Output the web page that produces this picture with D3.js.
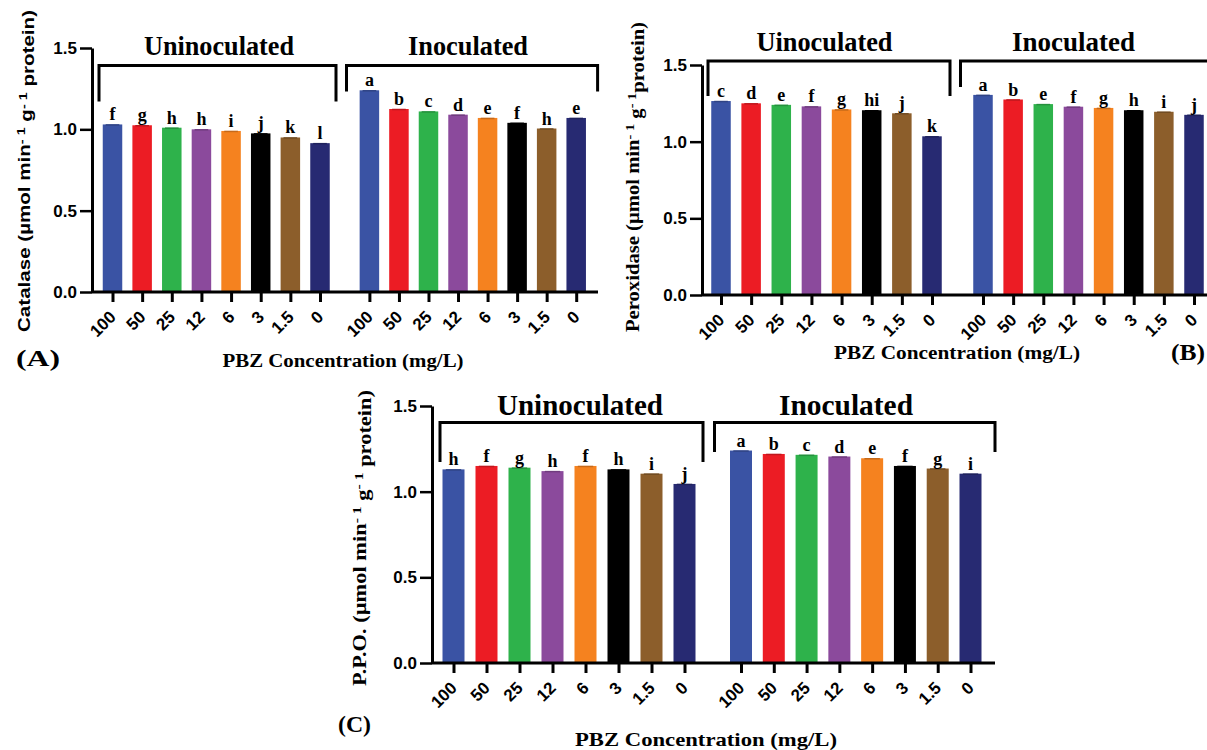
<!DOCTYPE html>
<html>
<head>
<meta charset="utf-8">
<script src="https://cdn.jsdelivr.net/npm/d3@7"></script>
<style>
  body { margin: 0; background: #fff; }
  svg { display: block; }
</style>
</head>
<body>
<div id="chart"></div>
<script>
// categories and shared stuff
const concentrations = ["100", "50", "25", "12", "6", "3", "1.5", "0"];
const barColors = ["#3a53a4", "#ec1c24", "#2eb24b", "#8b4a9c", "#f5821f", "#000000", "#8c5e2b", "#272a72"];
const yTickValues = [0, 0.5, 1.0, 1.5];

// (A) catalase
const catalaseUninoculated = [1.03, 1.025, 1.01, 1.0, 0.99, 0.975, 0.95, 0.915];
const catalaseInoculated = [1.24, 1.125, 1.11, 1.09, 1.07, 1.04, 1.005, 1.07];
const catalaseLettersUninoculated = ["f", "g", "h", "h", "i", "j", "k", "l"];
const catalaseLettersInoculated = ["a", "b", "c", "d", "e", "f", "h", "e"];

// (B) peroxidase
const peroxidaseUninoculated = [1.265, 1.25, 1.24, 1.23, 1.21, 1.205, 1.185, 1.035];
const peroxidaseInoculated = [1.305, 1.275, 1.245, 1.228, 1.22, 1.205, 1.195, 1.175];
const peroxidaseLettersUninoculated = ["c", "d", "e", "f", "g", "hi", "j", "k"];
const peroxidaseLettersInoculated = ["a", "b", "e", "f", "g", "h", "i", "j"];

// (C) PPO
const ppoUninoculated = [1.13, 1.15, 1.14, 1.12, 1.15, 1.13, 1.105, 1.045];
const ppoInoculated = [1.24, 1.22, 1.215, 1.205, 1.195, 1.15, 1.135, 1.105];
const ppoLettersUninoculated = ["h", "f", "g", "h", "f", "h", "i", "j"];
const ppoLettersInoculated = ["a", "b", "c", "d", "e", "f", "g", "i"];

const SERIF = "'Liberation Serif', 'Times New Roman', serif";
const SANS = "'Liberation Sans', Arial, sans-serif";

const panels = [
  {
    uninoc: catalaseUninoculated, inoc: catalaseInoculated,
    lettersU: catalaseLettersUninoculated, lettersI: catalaseLettersInoculated,
    yTitle: ["Catalase (µmol min", "- 1", " g", "- 1", " protein)"], yTitleFont: SANS,
    yTitlePos: { x: 24, y: 171, len: 322, size: 16.5 },
    axisX: 92, axisRight: 598, yTop: 48, yBottom: 292,
    centersU: [112.5, 320], centersI: [369.4, 576.2], barW: 19.5,
    bracketU: [99, 336, 65.5, 101.5, 101.5], bracketI: [346.5, 597.6, 65.5, 91.5, 91.5],
    titleU: { text: "Uninoculated", x: 219, y: 55, len: 150, size: 28 },
    titleI: { text: "Inoculated", x: 468, y: 55, len: 120, size: 28 },
    xTitle: { x: 343, y: 367, len: 241, size: 18 },
    tag: { text: "(A)", x: 16, y: 366, len: 44, size: 23 }
  },
  {
    uninoc: peroxidaseUninoculated, inoc: peroxidaseInoculated,
    lettersU: peroxidaseLettersUninoculated, lettersI: peroxidaseLettersInoculated,
    yTitle: ["Peroxidase (µmol min", "- 1", " g", "- 1", "protein)"], yTitleFont: SERIF,
    yTitlePos: { x: 633, y: 177, len: 310, size: 18 },
    axisX: 702, axisRight: 1212, yTop: 65, yBottom: 295,
    centersU: [721, 932], centersI: [983, 1194], barW: 19.5,
    bracketU: [708, 950, 61, 96, 96], bracketI: [960.5, 1215, 61, 87, 87],
    titleU: { text: "Uinoculated", x: 824.5, y: 51, len: 136, size: 28 },
    titleI: { text: "Inoculated", x: 1073.5, y: 51, len: 123, size: 28 },
    xTitle: { x: 957, y: 359, len: 246, size: 18 },
    tag: { text: "(B)", x: 1171, y: 360, len: 34, size: 23 }
  },
  {
    uninoc: ppoUninoculated, inoc: ppoInoculated,
    lettersU: ppoLettersUninoculated, lettersI: ppoLettersInoculated,
    yTitle: ["P.P.O. (µmol min", "- 1", " g", "- 1", " protein)"], yTitleFont: SERIF,
    yTitlePos: { x: 360, y: 538, len: 296, size: 18 },
    axisX: 432, axisRight: 995, yTop: 406, yBottom: 663,
    centersU: [453.5, 684.5], centersI: [741, 970.5], barW: 22,
    bracketU: [440, 703, 422.5, 462, 462], bracketI: [714.5, 995, 422.5, 452, 452],
    titleU: { text: "Uninoculated", x: 580, y: 415, len: 166, size: 30 },
    titleI: { text: "Inoculated", x: 846, y: 415, len: 134, size: 30 },
    xTitle: { x: 706, y: 746, len: 262, size: 19 },
    tag: { text: "(C)", x: 338, y: 732, len: 33, size: 23 }
  }
];

const svg = d3.select("#chart").append("svg")
  .attr("width", 1207)
  .attr("height", 750);

function drawPanel(p) {
  const g = svg.append("g");
  const y = d3.scaleLinear().domain([0, 1.5]).range([p.yBottom, p.yTop]);

  const groups = [
    { values: p.uninoc, letters: p.lettersU, x: d3.scalePoint().domain(concentrations).range(p.centersU) },
    { values: p.inoc, letters: p.lettersI, x: d3.scalePoint().domain(concentrations).range(p.centersI) }
  ];

  groups.forEach(gr => {
    const rows = concentrations.map((c, i) => ({ c: c, v: gr.values[i], l: gr.letters[i], color: barColors[i] }));

    g.append("g").selectAll("rect")
      .data(rows)
      .enter()
      .append("rect")
        .attr("x", d => gr.x(d.c) - p.barW / 2)
        .attr("width", p.barW)
        .attr("y", d => y(d.v))
        .attr("height", d => y(0) - y(d.v))
        .attr("fill", d => d.color);

    // tiny error caps
    g.append("g").selectAll("line")
      .data(rows)
      .enter()
      .append("line")
        .attr("x1", d => gr.x(d.c) - p.barW * 0.35)
        .attr("x2", d => gr.x(d.c) + p.barW * 0.35)
        .attr("y1", d => y(d.v) + 0.5)
        .attr("y2", d => y(d.v) + 0.5)
        .attr("stroke", d => d3.color(d.color).darker(0.6))
        .attr("stroke-width", 1.5);

    // significance letters
    g.append("g").selectAll("text")
      .data(rows)
      .enter()
      .append("text")
        .attr("x", d => gr.x(d.c))
        .attr("y", d => y(d.v) - 4)
        .attr("text-anchor", "middle")
        .style("font-family", SERIF)
        .style("font-weight", "bold")
        .style("font-size", "18px")
        .text(d => d.l);

    // x ticks + labels
    const xa = g.append("g")
      .attr("transform", "translate(0," + y(0) + ")")
      .call(d3.axisBottom(gr.x).tickSize(10).tickSizeOuter(0));
    xa.select(".domain").remove();
    xa.selectAll(".tick line").attr("stroke", "#000").attr("stroke-width", 3);
    xa.selectAll(".tick text")
      .attr("y", null)
      .attr("dy", null)
      .attr("text-anchor", "end")
      .attr("transform", "translate(4,26) rotate(-45)")
      .style("font-family", SANS)
      .style("font-weight", "bold")
      .style("font-size", "17px")
      .attr("fill", "#000");
  });

  // x baseline
  g.append("line")
    .attr("x1", p.axisX).attr("x2", p.axisRight)
    .attr("y1", y(0)).attr("y2", y(0))
    .attr("stroke", "#000").attr("stroke-width", 3);

  // y axis
  const ya = g.append("g")
    .attr("transform", "translate(" + p.axisX + ",0)")
    .call(d3.axisLeft(y).tickValues(yTickValues).tickFormat(d3.format(".1f")).tickSize(12).tickSizeOuter(0).tickPadding(3));
  ya.select(".domain").attr("stroke-width", 3);
  ya.selectAll(".tick line").attr("stroke-width", 2.5);
  ya.selectAll(".tick text")
    .style("font-family", SANS)
    .style("font-weight", "bold")
    .style("font-size", "17px")
    .attr("fill", "#000");

  // group brackets
  [p.bracketU, p.bracketI].forEach(b => {
    g.append("path")
      .attr("d", d3.line()([[b[0], b[3]], [b[0], b[2]], [b[1], b[2]], [b[1], b[4]]]))
      .attr("fill", "none")
      .attr("stroke", "#000")
      .attr("stroke-width", 3);
  });

  // group titles
  [p.titleU, p.titleI].forEach(t => {
    g.append("text")
      .attr("x", t.x).attr("y", t.y)
      .attr("text-anchor", "middle")
      .attr("textLength", t.len)
      .attr("lengthAdjust", "spacingAndGlyphs")
      .style("font-family", SERIF)
      .style("font-weight", "bold")
      .style("font-size", t.size + "px")
      .text(t.text);
  });

  // x title
  g.append("text")
    .attr("x", p.xTitle.x).attr("y", p.xTitle.y)
    .attr("text-anchor", "middle")
    .attr("textLength", p.xTitle.len)
    .attr("lengthAdjust", "spacingAndGlyphs")
    .style("font-family", SERIF)
    .style("font-weight", "bold")
    .style("font-size", p.xTitle.size + "px")
    .text("PBZ Concentration (mg/L)");

  // panel tag
  g.append("text")
    .attr("x", p.tag.x).attr("y", p.tag.y)
    .attr("textLength", p.tag.len)
    .attr("lengthAdjust", "spacingAndGlyphs")
    .style("font-family", SERIF)
    .style("font-weight", "bold")
    .style("font-size", p.tag.size + "px")
    .text(p.tag.text);

  // y title with superscripts
  const yt = g.append("text")
    .attr("transform", "translate(" + p.yTitlePos.x + "," + p.yTitlePos.y + ") rotate(-90)")
    .attr("text-anchor", "middle")
    .attr("dy", "0.35em")
    .attr("textLength", p.yTitlePos.len)
    .attr("lengthAdjust", "spacingAndGlyphs")
    .style("font-family", p.yTitleFont)
    .style("font-weight", "bold")
    .style("font-size", p.yTitlePos.size + "px");
  p.yTitle.forEach((part, i) => {
    const sup = i % 2 === 1;
    yt.append("tspan")
      .attr("dy", sup ? "-0.45em" : (i > 0 ? "0.45em" : null))
      .style("font-size", sup ? "70%" : null)
      .text(part);
  });
}

panels.forEach(drawPanel);
</script>
</body>
</html>
